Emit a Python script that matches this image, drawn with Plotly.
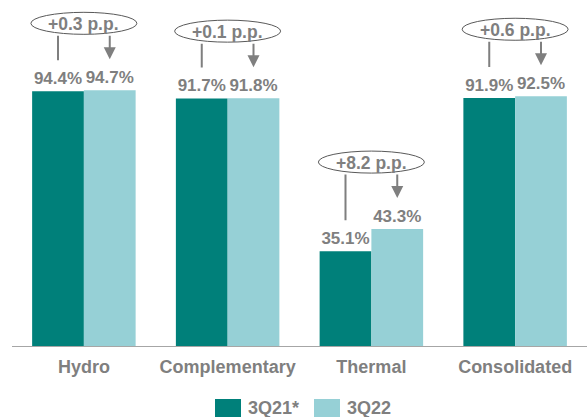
import plotly.graph_objects as go

categories = ["Hydro", "Complementary", "Thermal", "Consolidated"]
series_names = ["3Q21*", "3Q22"]
values_3q21 = [94.4, 91.7, 35.1, 91.9]
values_3q22 = [94.7, 91.8, 43.3, 92.5]
delta_labels = ["+0.3 p.p.", "+0.1 p.p.", "+8.2 p.p.", "+0.6 p.p."]

DARK = "#00807A"
LIGHT = "#96D0D6"
GREY = "#7F7F7F"
FONT = "Liberation Sans, Arial, sans-serif"

W, H = 587, 417
M_L, M_R, M_T, M_B = 12, 0, 5, 71
YMAX = 126.3
BARGAP = 0.28
PW = W - M_L - M_R
PH = H - M_T - M_B
ppu = PH / YMAX
off = (1 - BARGAP) / 4

fig = go.Figure()
for vals, name, col in [(values_3q21, series_names[0], DARK),
                        (values_3q22, series_names[1], LIGHT)]:
    fig.add_trace(go.Bar(
        x=list(range(len(categories))), y=vals, name=name,
        marker=dict(color=col, line=dict(width=0)),
        texttemplate="<b>%{y:.1f}%</b>", textposition="outside",
        textfont=dict(size=17, color=GREY, family=FONT), cliponaxis=False,
        constraintext="none", showlegend=False))

shapes = []
annotations = []
for i, (a, b, lab) in enumerate(zip(values_3q21, values_3q22, delta_labels)):
    mx = max(a, b)
    shapes.append(dict(type="circle", xref="x", yref="y",
                       xsizemode="pixel", xanchor=i, x0=-53, x1=53,
                       ysizemode="pixel", yanchor=mx, y0=56, y1=78,
                       line=dict(color="#595959", width=1), fillcolor="white"))
    annotations.append(dict(x=i, y=mx, xref="x", yref="y", yshift=66,
                            text=f"<b>{lab}</b>", showarrow=False,
                            font=dict(size=17.5, color=GREY, family=FONT)))
    annotations.append(dict(x=i - off, y=a, xref="x", yref="y", text="",
                            showarrow=True, arrowhead=0, arrowwidth=2,
                            arrowcolor=GREY, standoff=31, ax=0,
                            ay=-((mx - a) * ppu + 56)))
    annotations.append(dict(x=i + off, y=b, xref="x", yref="y", text="",
                            showarrow=True, arrowhead=2, arrowsize=1.2,
                            arrowwidth=2, arrowcolor=GREY, standoff=31, ax=0,
                            ay=-((mx - b) * ppu + 56)))

# custom legend (pixel positions converted to paper coords)
def px_x(p):
    return (p - M_L) / PW

def px_y(p):
    return (H - M_B - p) / PH

for name, col, left in [(series_names[0], DARK, 215), (series_names[1], LIGHT, 314)]:
    shapes.append(dict(type="rect", xref="paper", yref="paper",
                       x0=px_x(left), x1=px_x(left + 26),
                       y0=px_y(418), y1=px_y(399),
                       line=dict(width=0), fillcolor=col))
    annotations.append(dict(xref="paper", yref="paper",
                            x=px_x(left + 31), y=px_y(408),
                            xanchor="left", yanchor="middle", showarrow=False,
                            text=f"<b>{name}</b>",
                            font=dict(size=18, color=GREY, family=FONT)))

fig.update_layout(
    width=W, height=H, barmode="group", bargap=BARGAP, bargroupgap=0,
    margin=dict(l=M_L, r=M_R, t=M_T, b=M_B),
    plot_bgcolor="white", paper_bgcolor="white",
    shapes=shapes, annotations=annotations, showlegend=False,
    xaxis=dict(tickmode="array", tickvals=list(range(len(categories))),
               ticktext=[f"<b>{c}</b>" for c in categories],
               range=[-0.5, len(categories) - 0.5],
               showline=True, linecolor="#A6A6A6", linewidth=1,
               showgrid=False, zeroline=False, ticks="",
               ticklabelstandoff=4,
               tickfont=dict(size=18, color=GREY, family=FONT)),
    yaxis=dict(range=[0, YMAX], visible=False, showgrid=False, zeroline=False),
    font=dict(family=FONT),
)
fig.write_html("out.html")
